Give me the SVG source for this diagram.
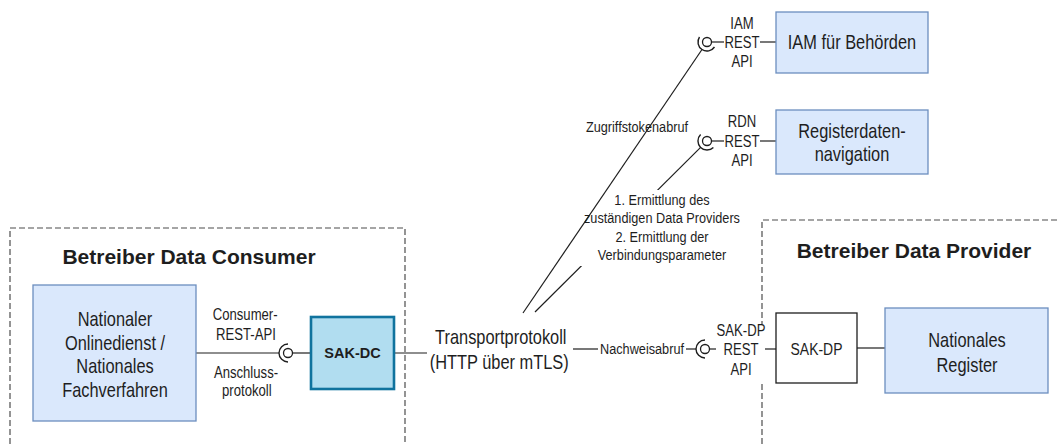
<svg xmlns="http://www.w3.org/2000/svg" width="1059" height="444" viewBox="0 0 1059 444">
  <style>
    text { font-family: "Liberation Sans", Arial, sans-serif; fill: #1e1e1e; text-anchor: middle; }
    .t20 { font-size: 20px; }
    .t16 { font-size: 16px; }
    .t15 { font-size: 15.5px; }
    .title { font-weight: bold; font-size: 21px; }
    .bold { font-weight: bold; font-size: 14.5px; }
    .zone { fill: none; stroke: #4d4d4d; stroke-width: 1.2; stroke-dasharray: 6 3; }
    .blue { fill: #dae8fc; stroke: #6c8ebf; stroke-width: 1.3; }
    .line { fill: none; stroke: #1e1e1e; stroke-width: 1.2; }
    .ball { fill: #ffffff; stroke: #1e1e1e; stroke-width: 1.3; }
    .socket { fill: none; stroke: #1e1e1e; stroke-width: 1.4; }
    .bg { fill: #ffffff; }
  </style>

  <!-- operator zones -->
  <g id="zone-consumer">
    <path class="zone" d="M10 444 V228 H405 V444"/>
    <text class="title" x="189" y="264">Betreiber Data Consumer</text>
  </g>
  <g id="zone-provider">
    <path class="zone" d="M762 444 V220 H1059"/>
    <text class="title" x="914" y="258">Betreiber Data Provider</text>
  </g>

  <!-- connectors; narrow labels are squeezed horizontally about their centre x -->
  <g id="connectors">
    <!-- Onlinedienst -> SAK-DC via consumer interface -->
    <line class="line" x1="196" y1="353" x2="279" y2="353"/>
    <path class="socket" d="M288 344 A9 9 0 0 0 288 362"/>
    <circle class="ball" cx="288" cy="353" r="4.5"/>
    <line class="line" x1="292.5" y1="353" x2="311" y2="353"/>
    <g transform="matrix(0.82 0 0 1 44.28 0)">
      <text class="t16" x="245" y="320">Consumer-</text>
      <text class="t16" x="246" y="340.5">REST-API</text>
      <text class="t16" x="246" y="378">Anschluss-</text>
      <text class="t16" x="247" y="396">protokoll</text>
    </g>

    <!-- SAK-DC -> transport -->
    <line class="line" x1="394" y1="353" x2="427" y2="353"/>

    <!-- transport -> SAK-DP -->
    <line class="line" x1="573" y1="349" x2="598" y2="349"/>
    <text class="t15" x="642" y="354.5" transform="matrix(0.82 0 0 1 115.56 0)">Nachweisabruf</text>
    <line class="line" x1="686" y1="349" x2="696" y2="349"/>
    <path class="socket" d="M705 340 A9 9 0 0 0 705 358"/>
    <circle class="ball" cx="705" cy="349" r="4.5"/>
    <line class="line" x1="709.5" y1="349" x2="716" y2="349"/>
    <rect class="bg" x="716" y="324" width="48" height="57"/>
    <g transform="matrix(0.82 0 0 1 133.38 0)">
      <text class="t16" x="741" y="336">SAK-DP</text>
      <text class="t16" x="741" y="355.5">REST</text>
      <text class="t16" x="741" y="375">API</text>
    </g>
    <line class="line" x1="765" y1="349" x2="776" y2="349"/>

    <!-- SAK-DP -> register -->
    <line class="line" x1="857" y1="348" x2="885" y2="348"/>

    <!-- IAM interface -->
    <path class="socket" d="M699.5 37 A9 9 0 0 0 714.5 47"/>
    <circle class="ball" cx="707" cy="42" r="4.5"/>
    <line class="line" x1="711.5" y1="42" x2="724" y2="42"/>
    <g transform="matrix(0.82 0 0 1 133.56 0)">
      <text class="t16" x="742" y="29">IAM</text>
      <text class="t16" x="742" y="48">REST</text>
      <text class="t16" x="742" y="67">API</text>
    </g>
    <line class="line" x1="760" y1="42" x2="776" y2="42"/>

    <!-- RDN interface -->
    <path class="socket" d="M700.6 134.6 A9 9 0 0 0 713.4 147.4"/>
    <circle class="ball" cx="707" cy="141" r="4.5"/>
    <line class="line" x1="711.5" y1="141" x2="724" y2="141"/>
    <g transform="matrix(0.82 0 0 1 133.56 0)">
      <text class="t16" x="742" y="127">RDN</text>
      <text class="t16" x="742" y="147">REST</text>
      <text class="t16" x="742" y="166">API</text>
    </g>
    <line class="line" x1="760" y1="141" x2="776" y2="141"/>

    <!-- transport -> RDN, label hides the line behind it -->
    <line class="line" x1="535" y1="312" x2="700.6" y2="147.4"/>
    <rect class="bg" x="580" y="190" width="160" height="76"/>
    <g transform="matrix(0.82 0 0 1 119.16 0)">
      <text class="t15" x="662" y="205">1. Ermittlung des</text>
      <text class="t15" x="662" y="223.5">zuständigen Data Providers</text>
      <text class="t15" x="662" y="242">2. Ermittlung der</text>
      <text class="t15" x="662" y="260.5">Verbindungsparameter</text>
    </g>

    <!-- transport -> IAM -->
    <line class="line" x1="523" y1="313" x2="702" y2="49.5"/>
    <text class="t15" x="637" y="132" transform="matrix(0.82 0 0 1 114.66 0)">Zugriffstokenabruf</text>
  </g>

  <!-- nodes -->
  <g id="node-onlinedienst">
    <rect class="blue" x="33" y="285" width="163" height="136"/>
    <g transform="matrix(0.82 0 0 1 20.7 0)">
      <text class="t20" x="115" y="326">Nationaler</text>
      <text class="t20" x="115" y="350">Onlinedienst /</text>
      <text class="t20" x="115" y="373.5">Nationales</text>
      <text class="t20" x="115" y="397">Fachverfahren</text>
    </g>
  </g>

  <g id="node-sak-dc">
    <rect x="311" y="317" width="83" height="72" fill="#b1ddf0" stroke="#10739e" stroke-width="2.6"/>
    <text class="bold" x="352.5" y="358">SAK-DC</text>
  </g>

  <g id="node-transport">
    <g transform="matrix(0.82 0 0 1 90 0)">
      <text class="t20" x="501" y="344">Transportprotokoll</text>
      <text class="t20" x="499" y="369">(HTTP über mTLS)</text>
    </g>
  </g>

  <g id="node-iam">
    <rect class="blue" x="776" y="12" width="152" height="61"/>
    <text class="t20" x="852" y="49.5" transform="matrix(0.82 0 0 1 153.36 0)">IAM für Behörden</text>
  </g>

  <g id="node-rdn">
    <rect class="blue" x="776" y="110" width="152" height="64"/>
    <g transform="matrix(0.82 0 0 1 153.36 0)">
      <text class="t20" x="852" y="138">Registerdaten-</text>
      <text class="t20" x="852" y="161">navigation</text>
    </g>
  </g>

  <g id="node-sak-dp">
    <rect x="776" y="313" width="81" height="70" fill="#ffffff" stroke="#1e1e1e" stroke-width="1.3"/>
    <text class="t16" x="816.5" y="355" style="font-size:17px" transform="matrix(0.82 0 0 1 146.97 0)">SAK-DP</text>
  </g>

  <g id="node-register">
    <rect class="blue" x="885" y="308" width="163" height="85"/>
    <g transform="matrix(0.82 0 0 1 174.06 0)">
      <text class="t20" x="967" y="347">Nationales</text>
      <text class="t20" x="967" y="372">Register</text>
    </g>
  </g>
</svg>
